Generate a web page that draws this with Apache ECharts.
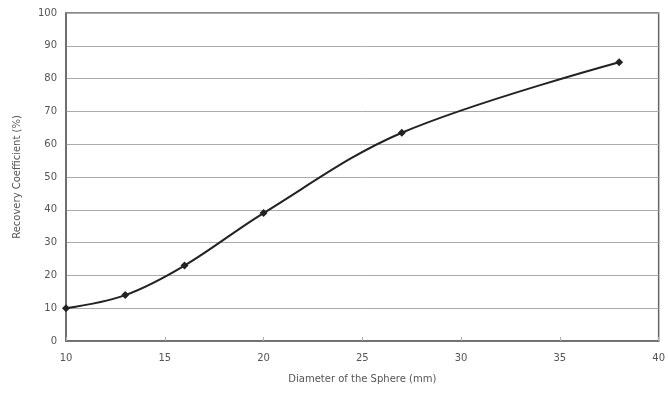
<!DOCTYPE html>
<html><head><meta charset="utf-8">
<script src="https://cdn.jsdelivr.net/npm/echarts@6/dist/echarts.min.js"></script>
<style>html,body{margin:0;padding:0;background:#fff}#c{width:668px;height:394px}</style>
</head><body><div id="c"></div>
<script>
const diameters = [10, 13, 16, 20, 27, 38];
const recovery = [10, 14, 23, 39, 63.5, 85];
const xTitle = 'Diameter of the Sphere (mm)';
const yTitle = 'Recovery Coefficient (%)';

const chart = echarts.init(document.getElementById('c'));
chart.setOption({
  animation: false,
  backgroundColor: '#fff',
  grid: { left: 66, right: 6, top: 13, bottom: 53, show: true, borderColor: '#666', borderWidth: 1.5 },
  xAxis: {
    type: 'value', min: 10, max: 40, interval: 5,
    name: xTitle, nameLocation: 'middle', nameGap: 33,
    nameTextStyle: { color: '#555', fontSize: 10, fontFamily: 'DejaVu Sans' },
    axisLine: { show: true, lineStyle: { color: '#666', width: 1.5 } },
    axisTick: { show: true, inside: true, length: 4, lineStyle: { color: '#aaa' } },
    axisLabel: { color: '#555', fontSize: 10, margin: 12, fontFamily: 'DejaVu Sans' },
    splitLine: { show: false }
  },
  yAxis: {
    type: 'value', min: 0, max: 100, interval: 10,
    name: yTitle, nameLocation: 'middle', nameGap: 44,
    nameTextStyle: { color: '#555', fontSize: 10, fontFamily: 'DejaVu Sans' },
    axisLine: { show: true, lineStyle: { color: '#666', width: 1.5 } },
    axisTick: { show: false },
    axisLabel: { color: '#555', fontSize: 10, margin: 9, fontFamily: 'DejaVu Sans' },
    splitLine: { show: true, lineStyle: { color: '#aaa', width: 1 } }
  },
  series: [{
    type: 'line',
    data: diameters.map((d, i) => [d, recovery[i]]),
    smooth: 0.35,
    symbol: 'diamond', symbolSize: 8,
    itemStyle: { color: '#222' },
    lineStyle: { color: '#222', width: 2 }
  }]
});
</script></body></html>
